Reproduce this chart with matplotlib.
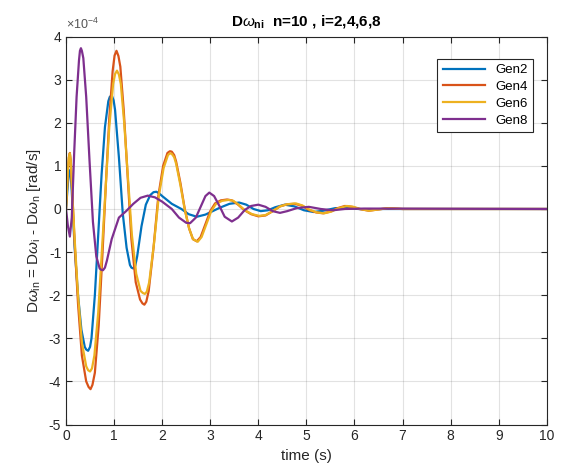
import numpy as np
import matplotlib
matplotlib.use("Agg")
import matplotlib.pyplot as plt
from matplotlib.ticker import FuncFormatter

# values, in units of 1e-4 rad/s
t_gen2 = [0, 0.04, 0.06, 0.08, 0.10, 0.12, 0.18, 0.25, 0.32, 0.39, 0.42, 0.46, 0.50, 0.53, 0.60,
          0.67, 0.74, 0.81, 0.88, 0.91, 0.95, 0.99, 1.02, 1.10, 1.18, 1.26, 1.33, 1.36, 1.40, 1.44,
          1.48, 1.57, 1.66, 1.75, 1.82, 1.88, 1.94, 2.0, 2.2, 2.4, 2.55, 2.72, 2.9, 3.05, 3.2,
          3.4, 3.6, 3.75, 3.9, 4.05, 4.2, 4.35, 4.55, 4.75, 4.95, 5.15, 5.35, 5.6, 5.85, 6.2,
          6.6, 10]
v_gen2 = [0, 0.6, 0.82, 0.9, 0.75, 0.4, -0.9, -2.0, -2.8, -3.2, -3.26, -3.29, -3.2, -3.0, -2.0,
          -0.6, 0.8, 1.9, 2.5, 2.6, 2.64, 2.52, 2.3, 1.2, -0.1, -0.9, -1.3, -1.36, -1.38, -1.32,
          -1.1, -0.4, 0.1, 0.32, 0.39, 0.40, 0.36, 0.3, 0.12, 0.0, -0.12, -0.18, -0.13, -0.05, 0.03,
          0.12, 0.15, 0.1, 0.0, -0.05, -0.03, 0.04, 0.1, 0.06, -0.03, -0.07, -0.04, 0.02, 0.02, -0.01,
          0.0, 0]

t_gen4 = [0, 0.04, 0.06, 0.08, 0.10, 0.12, 0.18, 0.25, 0.33, 0.42, 0.47, 0.51, 0.55, 0.60,
          0.68, 0.76, 0.83, 0.90, 0.97, 1.01, 1.05, 1.09, 1.13, 1.20, 1.28, 1.36, 1.45, 1.54,
          1.59, 1.63, 1.67, 1.72, 1.82, 1.92, 2.02, 2.11, 2.16, 2.20, 2.25, 2.29, 2.38, 2.47,
          2.56, 2.64, 2.72, 2.80, 2.90, 3.00, 3.10, 3.22, 3.35, 3.45, 3.58, 3.70, 3.85, 4.0,
          4.15, 4.30, 4.45, 4.6, 4.75, 4.9, 5.05, 5.2, 5.35, 5.5, 5.65, 5.8, 5.95, 6.1, 6.3,
          6.5, 6.7, 7.0, 10]
v_gen4 = [0, 0.9, 1.2, 1.3, 1.1, 0.6, -0.8, -2.2, -3.4, -4.0, -4.13, -4.18, -4.08, -3.8,
          -2.7, -1.0, 0.6, 2.1, 3.2, 3.56, 3.67, 3.55, 3.3, 2.3, 0.8, -0.7, -1.7, -2.1,
          -2.19, -2.22, -2.15, -1.9, -0.9, 0.3, 1.0, 1.3, 1.34, 1.33, 1.25, 1.1, 0.6, 0.0,
          -0.45, -0.7, -0.75, -0.65, -0.35, -0.05, 0.13, 0.2, 0.22, 0.2, 0.1, -0.02, -0.12, -0.17,
          -0.15, -0.05, 0.06, 0.11, 0.12, 0.08, -0.02, -0.08, -0.1, -0.06, 0.02, 0.07, 0.05, 0.0, -0.04,
          -0.01, 0.02, 0.0, 0]

t_gen6 = [0, 0.04, 0.06, 0.08, 0.10, 0.12, 0.18, 0.25, 0.33, 0.42, 0.46, 0.50, 0.54, 0.59,
          0.67, 0.75, 0.83, 0.90, 0.98, 1.02, 1.06, 1.10, 1.14, 1.21, 1.29, 1.37, 1.46, 1.55,
          1.60, 1.64, 1.68, 1.73, 1.83, 1.93, 2.03, 2.12, 2.16, 2.20, 2.25, 2.29, 2.38, 2.47,
          2.56, 2.64, 2.74, 2.82, 2.92, 3.02, 3.12, 3.25, 3.38, 3.48, 3.60, 3.72, 3.87, 4.02,
          4.15, 4.30, 4.45, 4.6, 4.78, 4.92, 5.07, 5.22, 5.37, 5.52, 5.67, 5.84, 5.98, 6.12, 6.3,
          6.5, 6.7, 7.0, 10]
v_gen6 = [0, 0.9, 1.2, 1.29, 1.1, 0.6, -0.7, -2.0, -3.1, -3.65, -3.74, -3.77, -3.7, -3.4,
          -2.4, -0.9, 0.6, 1.9, 2.9, 3.13, 3.21, 3.12, 2.9, 2.0, 0.7, -0.6, -1.5, -1.9,
          -1.95, -1.97, -1.92, -1.7, -0.8, 0.3, 0.95, 1.25, 1.29, 1.28, 1.2, 1.05, 0.55, -0.02,
          -0.45, -0.7, -0.76, -0.65, -0.35, -0.05, 0.12, 0.19, 0.21, 0.19, 0.09, -0.03, -0.12, -0.16,
          -0.14, -0.05, 0.06, 0.11, 0.13, 0.08, -0.02, -0.08, -0.1, -0.06, 0.02, 0.07, 0.05, 0.0, -0.04,
          -0.01, 0.02, 0.0, 0]

t_gen8 = [0, 0.04, 0.08, 0.12, 0.17, 0.22, 0.27, 0.29, 0.31, 0.33, 0.36, 0.42, 0.49, 0.56,
          0.63, 0.70, 0.73, 0.77, 0.81, 0.85, 0.95, 1.1, 1.25, 1.4, 1.55, 1.7, 1.85, 2.0, 2.2,
          2.35, 2.5, 2.58, 2.7, 2.8, 2.9, 2.98, 3.08, 3.2, 3.3, 3.45, 3.58, 3.72, 3.85, 4.0,
          4.15, 4.3, 4.45, 4.6, 4.8, 5.05, 5.3, 5.55, 5.8, 6.2, 10]
v_gen8 = [0, -0.4, -0.64, -0.2, 1.3, 2.6, 3.45, 3.67, 3.73, 3.67, 3.5, 2.6, 1.1, -0.3,
          -1.1, -1.38, -1.41, -1.42, -1.36, -1.2, -0.7, -0.2, -0.05, 0.12, 0.26, 0.31, 0.27, 0.17, 0.0,
          -0.2, -0.32, -0.33, -0.2, 0.05, 0.3, 0.38, 0.3, 0.05, -0.18, -0.29, -0.2, -0.02, 0.07, 0.1,
          0.05, -0.05, -0.09, -0.05, 0.02, 0.05, 0.0, -0.03, 0.0, 0.01, 0]

series = [("Gen2", t_gen2, v_gen2, "#0072BD"),
          ("Gen4", t_gen4, v_gen4, "#D95319"),
          ("Gen6", t_gen6, v_gen6, "#EDB120"),
          ("Gen8", t_gen8, v_gen8, "#7E2F8E")]

plt.rcParams['font.family'] = ['Liberation Sans', 'DejaVu Sans']
plt.rcParams['axes.unicode_minus'] = False
plt.rcParams['mathtext.fontset'] = 'custom'
plt.rcParams['mathtext.rm'] = 'Liberation Sans'
plt.rcParams['mathtext.it'] = 'Liberation Sans:italic'
plt.rcParams['mathtext.bf'] = 'Liberation Sans:bold'

fig = plt.figure(figsize=(5.75, 4.75), dpi=100)
ax = fig.add_axes([0.1148, 0.1063, 0.8362, 0.8167])

for name, t, v, c in series:
    ax.plot(t, np.array(v) * 1e-4, color=c, lw=1.6, label=name, solid_joinstyle='round')

ax.set_xlim(0, 10)
ax.set_ylim(-5e-4, 4e-4)
ax.set_xticks(np.arange(0, 11, 1))
ax.set_yticks(np.arange(-5, 5, 1) * 1e-4)
ax.yaxis.set_major_formatter(FuncFormatter(lambda y, p: "%d" % round(y * 1e4)))
ax.text(0.0, 1.012, r"$\times$10$^{-4}$", transform=ax.transAxes, fontsize=9,
        color='#555555', ha='left', va='bottom')

ax.grid(True, color='#262626', alpha=0.13, lw=0.8)
ax.tick_params(direction='in', top=True, right=True, labelsize=10, colors='#262626', length=4)
for s in ax.spines.values():
    s.set_color('#262626')
    s.set_linewidth(0.8)

ax.set_xlabel("time (s)", fontsize=11, color='#262626')
ax.set_ylabel(r"D$\omega_{\mathrm{in}}$ = D$\omega_{\mathrm{i}}$ - D$\omega_{\mathrm{n}}$ [rad/s]",
              fontsize=11, color='#262626')
ax.set_title(r"D$\omega_{\mathbf{ni}}$  n=10 , i=2,4,6,8", fontsize=11, fontweight='bold', pad=8)

leg = ax.legend(loc='upper right', bbox_to_anchor=(0.985, 0.96), fontsize=9.5,
                fancybox=False, edgecolor='#262626', framealpha=1, handlelength=3.2,
                borderpad=0.4, labelspacing=0.35)
leg.get_frame().set_linewidth(0.8)

fig.savefig("out.png", dpi=100)
